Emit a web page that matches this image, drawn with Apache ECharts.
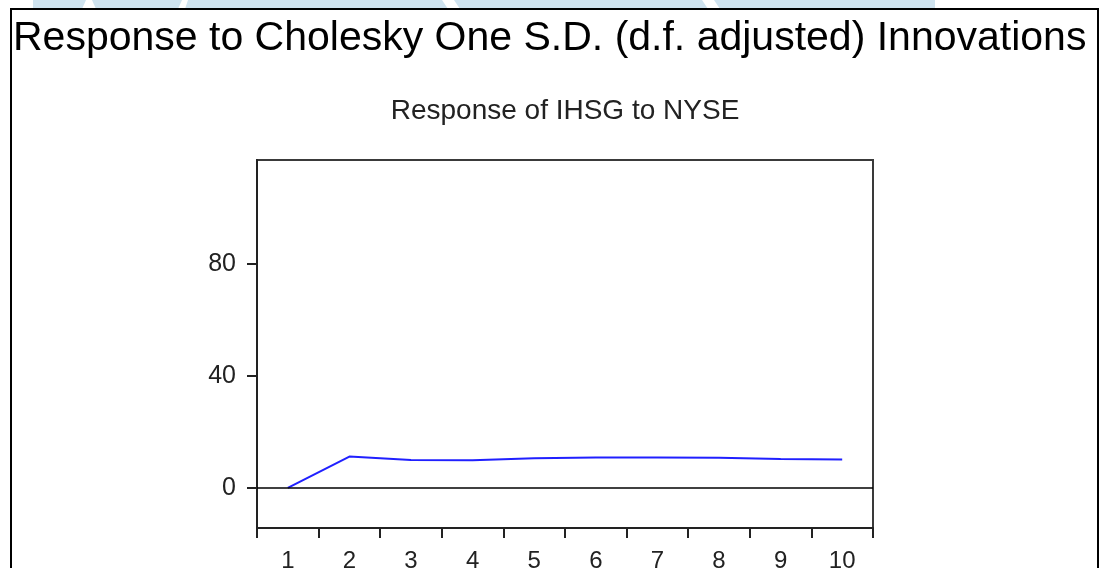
<!DOCTYPE html>
<html>
<head>
<meta charset="utf-8">
<script src="https://cdn.jsdelivr.net/npm/echarts@6/dist/echarts.min.js"></script>
<style>
  html, body { margin: 0; padding: 0; background: #fff; }
  #chart { width: 1111px; height: 568px; }
</style>
</head>
<body>
<div id="chart"></div>
<script>
// ---------------- data ----------------
const periods = ['1', '2', '3', '4', '5', '6', '7', '8', '9', '10'];
const responseIHSG = [0, 11.2, 10.0, 9.9, 10.6, 10.9, 10.9, 10.8, 10.3, 10.2];
const yTicks = [0, 40, 80];

const mainTitle = 'Response to Cholesky One S.D. (d.f. adjusted) Innovations';
const subTitle = 'Response of IHSG to NYSE';

// ---------------- chart ----------------
const myChart = echarts.init(document.getElementById('chart'));

const font = '"Liberation Sans", Arial, sans-serif';
const band = '#cfe3ef';

myChart.setOption({
  animation: false,
  backgroundColor: '#fff',
  grid: {
    left: 257, top: 160, right: 238, bottom: 40,
    outerBoundsMode: 'none',
    containLabel: false,
    show: true, borderColor: '#3a3a3a', borderWidth: 2
  },
  graphic: [
    // light blue strip above the frame
    { type: 'polygon', shape: { points: [[33, 0], [86, 0], [82, 9], [33, 9]] }, style: { fill: band } },
    { type: 'polygon', shape: { points: [[92, 0], [182, 0], [178, 9], [96, 9]] }, style: { fill: band } },
    { type: 'polygon', shape: { points: [[188, 0], [442, 0], [448, 9], [185, 9]] }, style: { fill: band } },
    { type: 'polygon', shape: { points: [[454, 0], [702, 0], [708, 9], [460, 9]] }, style: { fill: band } },
    { type: 'polygon', shape: { points: [[714, 0], [935, 0], [935, 9], [720, 9]] }, style: { fill: band } },
    // outer frame
    {
      type: 'rect',
      shape: { x: 11, y: 9, width: 1087, height: 600 },
      style: { fill: 'none', stroke: '#000', lineWidth: 2 }
    },
    {
      type: 'text', left: 13, top: 18,
      style: { text: mainTitle, font: '41px ' + font, fill: '#000' }
    },
    {
      type: 'text', x: 565, y: 111,
      style: { text: subTitle, font: '28px ' + font, fill: '#222', align: 'center', verticalAlign: 'middle' }
    }
  ],
  xAxis: {
    type: 'category',
    data: periods,
    boundaryGap: true,
    axisLine: { show: true, onZero: false, lineStyle: { color: '#222', width: 2 } },
    axisTick: { show: true, interval: 0, length: 10, lineStyle: { color: '#222', width: 2 } },
    axisLabel: { interval: 0, margin: 21, fontSize: 24, fontFamily: font, color: '#222' },
    splitLine: { show: false }
  },
  yAxis: {
    type: 'value',
    min: -14.3,
    max: 117.1,
    axisLine: { show: true, lineStyle: { color: '#222', width: 2 } },
    axisTick: { show: true, length: 10, customValues: yTicks, lineStyle: { color: '#222', width: 2 } },
    axisLabel: { customValues: yTicks, margin: 21, fontSize: 25, fontFamily: font, color: '#222' },
    splitLine: { show: false }
  },
  series: [
    {
      type: 'line',
      data: responseIHSG,
      symbol: 'none',
      lineStyle: { color: '#2020ff', width: 2 },
      markLine: {
        silent: true,
        symbol: 'none',
        label: { show: false },
        lineStyle: { color: '#000', width: 1.5, type: 'solid' },
        data: [{ yAxis: 0 }]
      }
    }
  ]
});
</script>
</body>
</html>
